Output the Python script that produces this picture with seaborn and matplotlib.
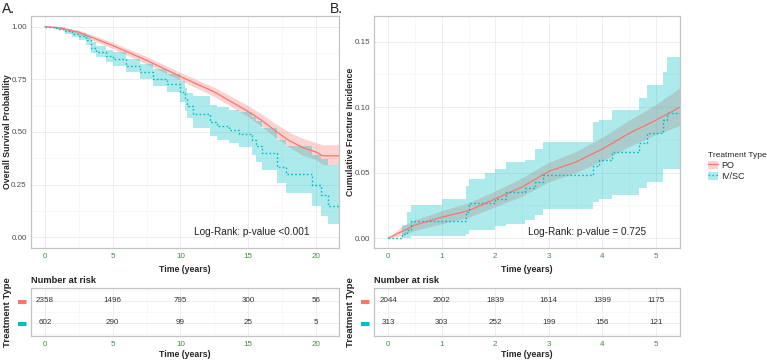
import numpy as np
import pandas as pd
import matplotlib
matplotlib.use("Agg")
import matplotlib.pyplot as plt
import seaborn as sns
from matplotlib.patches import Patch
from matplotlib.lines import Line2D
from matplotlib.ticker import MultipleLocator

# ---------------- data ----------------
groups = ["PO", "IV/SC"]
colors = {"PO": "#F8766D", "IV/SC": "#00BFC4"}

# Panel A: overall survival
a_po_t = [0, 1, 2.5, 5, 7.5, 10, 12.5, 15, 16, 17, 18, 19, 20, 20.5, 21.7]
a_po_s = [1.0, 0.995, 0.973, 0.91, 0.84, 0.763, 0.69, 0.597, 0.555, 0.506, 0.46, 0.427, 0.405, 0.387, 0.387]
a_po_hi = [1.0, 0.999, 0.983, 0.925, 0.858, 0.782, 0.712, 0.625, 0.585, 0.54, 0.5, 0.47, 0.45, 0.44, 0.44]
a_po_lo = [1.0, 0.99, 0.963, 0.895, 0.822, 0.745, 0.668, 0.572, 0.526, 0.475, 0.43, 0.39, 0.37, 0.345, 0.345]

a_iv_t = [0, 0.7, 1.0, 1.5, 2.0, 2.5, 3.0, 3.4, 3.8, 4.5, 5, 6, 7, 8, 9, 10, 10.3, 10.5, 10.9,
          12.2, 12.7, 13.6, 14.3, 15.3, 15.6, 16.0, 17.1, 17.8, 19.7, 20.4, 20.9, 21.7]
a_iv_s = [1.0, 0.995, 0.99, 0.978, 0.965, 0.953, 0.934, 0.90, 0.88, 0.862, 0.847, 0.815, 0.783, 0.752,
          0.728, 0.69, 0.655, 0.625, 0.585, 0.546, 0.53, 0.51, 0.49, 0.46, 0.435, 0.40, 0.335, 0.30,
          0.25, 0.20, 0.15, 0.15]
a_iv_hi = [1.0, 1.0, 0.998, 0.99, 0.98, 0.97, 0.956, 0.925, 0.906, 0.89, 0.878, 0.848, 0.823, 0.8,
           0.775, 0.74, 0.71, 0.685, 0.67, 0.63, 0.618, 0.605, 0.595, 0.57, 0.55, 0.52, 0.46, 0.435,
           0.39, 0.37, 0.345, 0.345]
a_iv_lo = [1.0, 0.99, 0.982, 0.966, 0.95, 0.936, 0.912, 0.875, 0.854, 0.834, 0.815, 0.783, 0.752, 0.72,
           0.688, 0.64, 0.60, 0.568, 0.52, 0.48, 0.462, 0.448, 0.43, 0.39, 0.36, 0.32, 0.26, 0.21,
           0.15, 0.10, 0.065, 0.065]

# Panel B: cumulative fracture incidence
b_po_t = [0, 0.25, 0.5, 1.0, 1.5, 2.0, 2.5, 3.0, 3.5, 4.0, 4.5, 5.0, 5.45]
b_po_f = [0, 0.005, 0.01, 0.016, 0.021, 0.03, 0.039, 0.051, 0.058, 0.068, 0.08, 0.09, 0.1]
b_po_hi = [0, 0.009, 0.014, 0.021, 0.027, 0.036, 0.046, 0.058, 0.066, 0.077, 0.09, 0.102, 0.115]
b_po_lo = [0, 0.002, 0.006, 0.011, 0.016, 0.024, 0.032, 0.043, 0.05, 0.059, 0.07, 0.079, 0.086]

b_iv_t = [0, 0.26, 0.36, 0.42, 1.0, 1.45, 1.5, 1.8, 2.0, 2.2, 2.55, 2.75, 2.9, 3.83, 3.93, 4.18,
          4.68, 4.83, 5.14, 5.2, 5.45]
b_iv_f = [0, 0.0033, 0.0066, 0.013, 0.013, 0.02, 0.027, 0.027, 0.03, 0.035, 0.038, 0.043, 0.048,
          0.055, 0.06, 0.066, 0.0725, 0.08, 0.09, 0.0954, 0.0954]
b_iv_hi = [0, 0.01, 0.02, 0.025, 0.03, 0.04, 0.045, 0.05, 0.053, 0.058, 0.06, 0.068, 0.073, 0.089,
           0.09, 0.098, 0.107, 0.117, 0.127, 0.138, 0.138]
b_iv_lo = [0, 0.0, 0.0, 0.0015, 0.0015, 0.003, 0.006, 0.0066, 0.009, 0.011, 0.014, 0.018, 0.022,
           0.0275, 0.03, 0.033, 0.038, 0.043, 0.053, 0.053, 0.053]

# Risk tables
a_risk_times = [0, 5, 10, 15, 20]
a_risk_po = [2358, 1496, 795, 300, 56]
a_risk_iv = [602, 290, 99, 25, 5]
b_risk_times = [0, 1, 2, 3, 4, 5]
b_risk_po = [2044, 2002, 1839, 1614, 1399, 1175]
b_risk_iv = [313, 303, 252, 199, 156, 121]

# ---------------- style ----------------
sns.set_style("white")
plt.rcParams["font.family"] = ["Liberation Sans", "DejaVu Sans"]

W, H = 767, 360
fig = plt.figure(figsize=(W / 100, H / 100), dpi=100)


def px_axes(l, t, r, b):
    return fig.add_axes([l / W, 1 - b / H, (r - l) / W, (b - t) / H])


TICK_GREEN = "#468a46"
GRID = "#ebebeb"
BORDER = "#c4c4c4"
AX_TITLE = 6.3


def style_axes(ax, xmaj, xmin, ymaj=None, ymin=None):
    ax.set_facecolor("white")
    for s in ax.spines.values():
        s.set_color(BORDER)
        s.set_linewidth(0.9)
    ax.xaxis.set_major_locator(MultipleLocator(xmaj))
    ax.xaxis.set_minor_locator(MultipleLocator(xmin))
    if ymaj is not None:
        ax.yaxis.set_major_locator(MultipleLocator(ymaj))
        ax.yaxis.set_minor_locator(MultipleLocator(ymin))
    ax.grid(True, which="major", color=GRID, lw=0.6)
    ax.grid(True, which="minor", color="#f3f3f3", lw=0.4)
    ax.set_axisbelow(True)
    ax.tick_params(axis="both", which="major", length=2, width=0.6, color="#888888",
                   labelsize=5.8, pad=1.5)
    ax.tick_params(axis="y", pad=1)
    ax.tick_params(axis="both", which="minor", length=0)
    ax.tick_params(axis="x", labelcolor=TICK_GREEN)
    ax.tick_params(axis="y", labelcolor="#4d4d4d")


def curve_df(t, v, lo, hi, g):
    return pd.DataFrame({"time": t, "value": v, "lo": lo, "hi": hi, "group": g})


def draw_panel(ax, dpo, div):
    ax.fill_between(dpo["time"], dpo["lo"], dpo["hi"], color=colors["PO"], alpha=0.32, lw=0)
    ax.fill_between(div["time"], div["lo"], div["hi"], color=colors["IV/SC"], alpha=0.32, lw=0,
                    step="post")
    sns.lineplot(data=dpo, x="time", y="value", color=colors["PO"], lw=0.9, ax=ax,
                 estimator=None, sort=False, legend=False)
    sns.lineplot(data=div, x="time", y="value", color=colors["IV/SC"], lw=1.0, ax=ax,
                 estimator=None, sort=False, legend=False, drawstyle="steps-post",
                 linestyle=(0, (1.2, 1.6)))


# ---------- Panel A ----------
axA = px_axes(31, 16, 339, 248)
style_axes(axA, 5, 2.5, 0.25, 0.125)
draw_panel(axA, curve_df(a_po_t, a_po_s, a_po_lo, a_po_hi, "PO"),
           curve_df(a_iv_t, a_iv_s, a_iv_lo, a_iv_hi, "IV/SC"))
axA.set_xlim(-1.03, 21.7)
axA.set_ylim(-0.05, 1.05)
axA.set_yticks([0, 0.25, 0.5, 0.75, 1.0])
axA.set_yticklabels(["0.00", "0.25", "0.50", "0.75", "1.00"])
axA.set_xlabel("Time (years)", fontsize=AX_TITLE, fontweight="bold")
axA.set_ylabel("Overall Survival Probability", fontsize=AX_TITLE, fontweight="bold")
axA.xaxis.set_label_coords(0.5, -0.073)
axA.yaxis.set_label_coords(-0.062, 0.5)
axA.text(0.717, 0.069, "Log-Rank: p-value <0.001", transform=axA.transAxes, ha="center",
         va="center", fontsize=7.2, color="#222222")

# ---------- Panel B ----------
axB = px_axes(374.3, 16, 680, 248)
style_axes(axB, 1, 0.5, 0.05, 0.025)
draw_panel(axB, curve_df(b_po_t, b_po_f, b_po_lo, b_po_hi, "PO"),
           curve_df(b_iv_t, b_iv_f, b_iv_lo, b_iv_hi, "IV/SC"))
axB.set_xlim(-0.26, 5.45)
axB.set_ylim(-0.0075, 0.1695)
axB.set_yticks([0, 0.05, 0.10, 0.15])
axB.set_yticklabels(["0.00", "0.05", "0.10", "0.15"])
axB.set_xlabel("Time (years)", fontsize=AX_TITLE, fontweight="bold")
axB.set_ylabel("Cumulative Fracture Incidence", fontsize=AX_TITLE, fontweight="bold")
axB.xaxis.set_label_coords(0.5, -0.073)
axB.yaxis.set_label_coords(-0.064, 0.5)
axB.text(0.697, 0.069, "Log-Rank: p-value = 0.725", transform=axB.transAxes, ha="center",
         va="center", fontsize=7.2, color="#222222")


# ---------- risk tables ----------
def draw_table(ax, times, po, iv, xlim, xmaj, xmin, ylab_x):
    style_axes(ax, xmaj, xmin)
    ax.set_xlim(*xlim)
    ax.set_ylim(0.41, 2.59)
    ax.set_xticks(times)
    ax.set_yticks([1, 2])
    ax.yaxis.set_minor_locator(MultipleLocator(0.5))
    ax.grid(True, which="minor", axis="y", color="#f3f3f3", lw=0.4)
    ax.set_yticklabels(["\u25AC", "\u25AC"], fontsize=8, fontfamily="DejaVu Sans")
    ax.tick_params(axis="y", length=0, pad=2.5)
    for lab, g in zip(ax.get_yticklabels(), ["IV/SC", "PO"]):
        lab.set_color(colors[g])
    for t, n in zip(times, po):
        ax.text(t, 2, str(n), ha="center", va="center", fontsize=5.8, color="#333333")
    for t, n in zip(times, iv):
        ax.text(t, 1, str(n), ha="center", va="center", fontsize=5.8, color="#333333")
    ax.set_xlabel("Time (years)", fontsize=AX_TITLE, fontweight="bold")
    ax.xaxis.set_label_coords(0.5, -0.30)
    ax.set_ylabel("Treatment Type", fontsize=6.8, fontweight="bold")
    ax.yaxis.set_label_coords(ylab_x, 0.5)
    ax.text(0, 1.16, "Number at risk", transform=ax.transAxes, ha="left", va="center",
            fontsize=6.7, fontweight="bold", color="#222222")


tA = px_axes(31, 287.7, 339, 335.7)
draw_table(tA, a_risk_times, a_risk_po, a_risk_iv, (-1.03, 21.7), 5, 2.5, -0.063)
tB = px_axes(374.3, 287.7, 680, 335.7)
draw_table(tB, b_risk_times, b_risk_po, b_risk_iv, (-0.26, 5.45), 1, 0.5, -0.063)

# ---------- panel labels ----------
fig.text(2 / W, 1 - 9 / H, "A.", fontsize=10, va="center", ha="left", color="#222222")
fig.text(330 / W, 1 - 9 / H, "B.", fontsize=10, va="center", ha="left", color="#222222")

# ---------- legend ----------
handles = [
    (Patch(facecolor=colors["PO"], alpha=0.32, lw=0), Line2D([], [], color=colors["PO"], lw=0.9)),
    (Patch(facecolor=colors["IV/SC"], alpha=0.32, lw=0),
     Line2D([], [], color=colors["IV/SC"], lw=1.0, linestyle=(0, (1.2, 1.6)))),
]
leg = fig.legend(handles, groups, loc="upper left", bbox_to_anchor=(707 / W, 1 - 151 / H),
                 frameon=False, title="Treatment Type", fontsize=6.5, title_fontsize=6,
                 handlelength=1.1, handleheight=1.0, handletextpad=0.4, labelspacing=0.2,
                 borderaxespad=0, borderpad=0.1)
leg._legend_box.align = "left"

fig.savefig("out.png", dpi=100)
